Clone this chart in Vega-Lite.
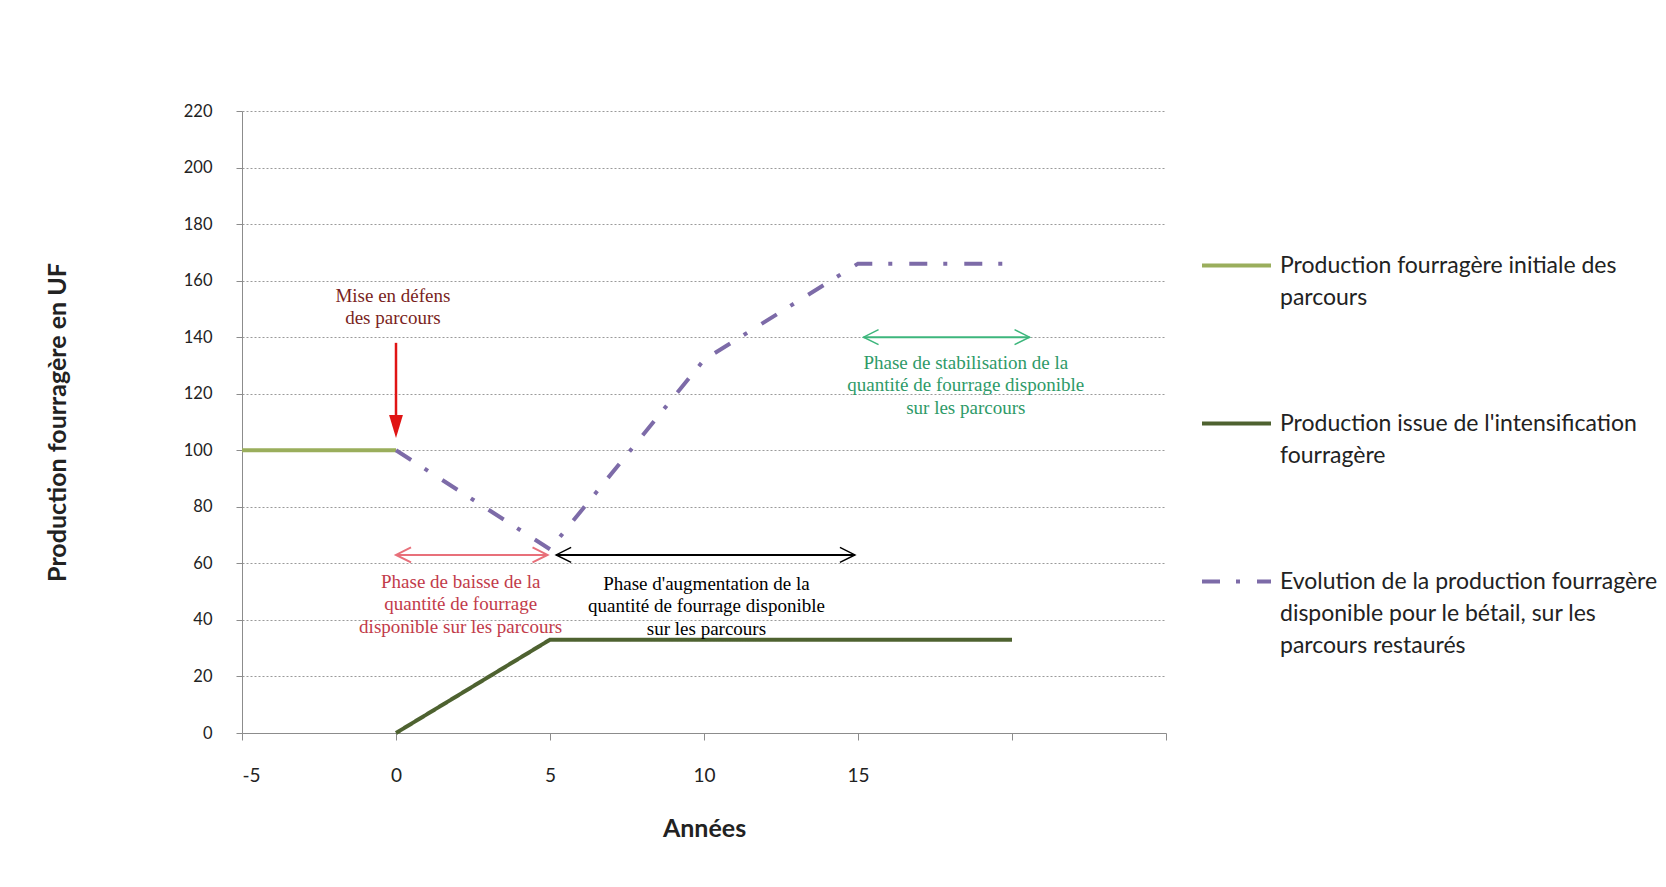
{
  "$schema": "https://vega.github.io/schema/vega-lite/v6.json",
  "width": 924,
  "height": 622,
  "autosize": {"type": "none"},
  "padding": {"left": 242, "top": 111, "right": 500, "bottom": 154},
  "background": "white",
  "config": {
    "view": {"stroke": null},
    "font": "Lato",
    "style": {"guide-label": {"lineHeight": 32}}
  },
  "datasets": {
    "series": [
      {"serie": "Production fourragère initiale  des parcours", "x": -5, "y": 100},
      {"serie": "Production fourragère initiale  des parcours", "x": 0, "y": 100},
      {"serie": "Production issue de l'intensification fourragère", "x": 0, "y": 0},
      {"serie": "Production issue de l'intensification fourragère", "x": 5, "y": 33},
      {"serie": "Production issue de l'intensification fourragère", "x": 20, "y": 33},
      {"serie": "Evolution de la production fourragère disponible pour le bétail, sur les parcours restaurés", "x": 0, "y": 100},
      {"serie": "Evolution de la production fourragère disponible pour le bétail, sur les parcours restaurés", "x": 5, "y": 65},
      {"serie": "Evolution de la production fourragère disponible pour le bétail, sur les parcours restaurés", "x": 10, "y": 132},
      {"serie": "Evolution de la production fourragère disponible pour le bétail, sur les parcours restaurés", "x": 15, "y": 166},
      {"serie": "Evolution de la production fourragère disponible pour le bétail, sur les parcours restaurés", "x": 20, "y": 166}
    ],
    "arrows": [
      {"phase": "baisse", "x1": 0, "x2": 4.92, "y": 63},
      {"phase": "augmentation", "x1": 5.2, "x2": 14.9, "y": 63},
      {"phase": "stabilisation", "x1": 15.18, "x2": 20.57, "y": 140}
    ],
    "defens": [
      {"x": 0, "y": 138, "y2": 110, "tip": 104.3}
    ],
    "notes": [
      {"id": "defens", "x": -0.1, "y": 157.8, "text": "Mise en défens\ndes parcours"},
      {"id": "baisse", "x": 2.1, "y": 56.7, "text": "Phase de baisse de la\nquantité de fourrage\ndisponible sur les parcours"},
      {"id": "augmentation", "x": 10.08, "y": 56, "text": "Phase d'augmentation de la\nquantité de fourrage disponible\nsur les parcours"},
      {"id": "stabilisation", "x": 18.5, "y": 134.1, "text": "Phase de stabilisation de la\nquantité de fourrage disponible\nsur les parcours"}
    ]
  },
  "layer": [
    {
      "data": {"name": "series"},
      "mark": {"type": "line", "strokeWidth": 4, "strokeCap": "butt"},
      "encoding": {
        "x": {
          "field": "x", "type": "quantitative",
          "scale": {"domain": [-5, 25], "nice": false, "zero": false},
          "axis": {
            "title": "Années",
            "values": [-5, 0, 5, 10, 15, 20, 25],
            "labelExpr": "datum.value <= 15 ? '' + datum.value : ''",
            "grid": false,
            "domainColor": "#8c8c8c",
            "tickColor": "#8c8c8c",
            "tickSize": 7,
            "labelFont": "Lato",
            "labelFontSize": 19,
            "labelColor": "#222222",
            "labelPadding": 26,
            "titleFont": "Lato",
            "titleFontSize": 25,
            "titleFontWeight": "bold",
            "titleColor": "#222222",
            "titlePadding": 31
          }
        },
        "y": {
          "field": "y", "type": "quantitative",
          "scale": {"domain": [0, 220], "nice": false},
          "axis": {
            "title": "Production fourragère en UF",
            "values": [0, 20, 40, 60, 80, 100, 120, 140, 160, 180, 200, 220],
            "grid": true,
            "gridDash": [2, 2],
            "gridColor": "#9a9a9a",
            "domainColor": "#8c8c8c",
            "tickColor": "#8c8c8c",
            "tickSize": 6,
            "labelFont": "Lato",
            "labelFontSize": 16.5,
            "labelColor": "#222222",
            "labelPadding": 24,
            "titleFont": "Lato",
            "titleFontSize": 25,
            "titleFontWeight": "bold",
            "titleColor": "#222222",
            "titlePadding": 113
          }
        },
        "color": {
          "field": "serie", "type": "nominal",
          "scale": {
            "domain": [
              "Production fourragère initiale  des parcours",
              "Production issue de l'intensification fourragère",
              "Evolution de la production fourragère disponible pour le bétail, sur les parcours restaurés"
            ],
            "range": ["#9AAE5C", "#4E6230", "#7D6BA8"]
          },
          "legend": {
            "orient": "none",
            "legendX": 958,
            "legendY": 118,
            "title": null,
            "padding": 0,
            "symbolType": "stroke",
            "symbolSize": 4761,
            "symbolStrokeWidth": 4,
            "labelFont": "Lato",
            "labelFontSize": 23,
            "labelColor": "#222222",
            "labelLimit": 0,
            "labelOffset": 7,
            "rowPadding": 77,
            "labelBaseline": "middle",
            "labelExpr": "datum.label == 'Production fourragère initiale  des parcours' ? ['Production fourragère initiale  des', 'parcours'] : datum.label == 'Production issue de l\\'intensification fourragère' ? ['Production issue de l\\'intensification', 'fourragère'] : ['Evolution de la production fourragère', 'disponible pour le bétail, sur les', 'parcours restaurés']"
          }
        },
        "strokeDash": {
          "field": "serie", "type": "nominal",
          "scale": {
            "domain": [
              "Production fourragère initiale  des parcours",
              "Production issue de l'intensification fourragère",
              "Evolution de la production fourragère disponible pour le bétail, sur les parcours restaurés"
            ],
            "range": [[1, 0], [1, 0], [18, 16, 4, 17]]
          },
          "legend": {
            "orient": "none",
            "legendX": 958,
            "legendY": 118,
            "title": null,
            "padding": 0,
            "symbolType": "stroke",
            "symbolSize": 4761,
            "symbolStrokeWidth": 4,
            "labelFont": "Lato",
            "labelFontSize": 23,
            "labelColor": "#222222",
            "labelLimit": 0,
            "labelOffset": 7,
            "rowPadding": 77,
            "labelBaseline": "middle",
            "labelExpr": "datum.label == 'Production fourragère initiale  des parcours' ? ['Production fourragère initiale  des', 'parcours'] : datum.label == 'Production issue de l\\'intensification fourragère' ? ['Production issue de l\\'intensification', 'fourragère'] : ['Evolution de la production fourragère', 'disponible pour le bétail, sur les', 'parcours restaurés']"
          }
        }
      }
    },
    {
      "data": {"name": "defens"},
      "layer": [
        {
          "mark": {"type": "rule", "color": "#E01414", "strokeWidth": 2.5},
          "encoding": {
            "x": {"field": "x", "type": "quantitative"},
            "y": {"field": "y", "type": "quantitative"},
            "y2": {"field": "y2"}
          }
        },
        {
          "mark": {"type": "point", "shape": "M-0.6,-2L0.6,-2L0,0Z", "filled": true, "color": "#E01414", "size": 529, "opacity": 1},
          "encoding": {
            "x": {"field": "x", "type": "quantitative"},
            "y": {"field": "tip", "type": "quantitative"}
          }
        }
      ]
    },
    {
      "data": {"name": "arrows"},
      "transform": [{"filter": "datum.phase == 'baisse'"}],
      "layer": [
        {
          "mark": {"type": "rule", "color": "#E8707A", "strokeWidth": 2},
          "encoding": {
            "x": {"field": "x1", "type": "quantitative"},
            "x2": {"field": "x2"},
            "y": {"field": "y", "type": "quantitative"}
          }
        },
        {
          "mark": {"type": "point", "shape": "M2,-1L0,0L2,1", "filled": false, "color": "#E8707A", "size": 225, "strokeWidth": 2, "opacity": 1},
          "encoding": {
            "x": {"field": "x1", "type": "quantitative"},
            "y": {"field": "y", "type": "quantitative"}
          }
        },
        {
          "mark": {"type": "point", "shape": "M-2,-1L0,0L-2,1", "filled": false, "color": "#E8707A", "size": 225, "strokeWidth": 2, "opacity": 1},
          "encoding": {
            "x": {"field": "x2", "type": "quantitative"},
            "y": {"field": "y", "type": "quantitative"}
          }
        }
      ]
    },
    {
      "data": {"name": "arrows"},
      "transform": [{"filter": "datum.phase == 'augmentation'"}],
      "layer": [
        {
          "mark": {"type": "rule", "color": "#000000", "strokeWidth": 2},
          "encoding": {
            "x": {"field": "x1", "type": "quantitative"},
            "x2": {"field": "x2"},
            "y": {"field": "y", "type": "quantitative"}
          }
        },
        {
          "mark": {"type": "point", "shape": "M2,-1L0,0L2,1", "filled": false, "color": "#000000", "size": 225, "strokeWidth": 1.5, "opacity": 1},
          "encoding": {
            "x": {"field": "x1", "type": "quantitative"},
            "y": {"field": "y", "type": "quantitative"}
          }
        },
        {
          "mark": {"type": "point", "shape": "M-2,-1L0,0L-2,1", "filled": false, "color": "#000000", "size": 225, "strokeWidth": 1.5, "opacity": 1},
          "encoding": {
            "x": {"field": "x2", "type": "quantitative"},
            "y": {"field": "y", "type": "quantitative"}
          }
        }
      ]
    },
    {
      "data": {"name": "arrows"},
      "transform": [{"filter": "datum.phase == 'stabilisation'"}],
      "layer": [
        {
          "mark": {"type": "rule", "color": "#3DB67C", "strokeWidth": 2},
          "encoding": {
            "x": {"field": "x1", "type": "quantitative"},
            "x2": {"field": "x2"},
            "y": {"field": "y", "type": "quantitative"}
          }
        },
        {
          "mark": {"type": "point", "shape": "M2,-1L0,0L2,1", "filled": false, "color": "#3DB67C", "size": 225, "strokeWidth": 1.5, "opacity": 1},
          "encoding": {
            "x": {"field": "x1", "type": "quantitative"},
            "y": {"field": "y", "type": "quantitative"}
          }
        },
        {
          "mark": {"type": "point", "shape": "M-2,-1L0,0L-2,1", "filled": false, "color": "#3DB67C", "size": 225, "strokeWidth": 1.5, "opacity": 1},
          "encoding": {
            "x": {"field": "x2", "type": "quantitative"},
            "y": {"field": "y", "type": "quantitative"}
          }
        }
      ]
    },
    {
      "data": {"name": "notes"},
      "transform": [{"filter": "datum.id == 'defens'"}],
      "mark": {"type": "text", "font": "Liberation Serif", "fontSize": 19, "lineHeight": 22.5, "lineBreak": "\n", "align": "center", "baseline": "top", "color": "#7A1F22"},
      "encoding": {
        "x": {"field": "x", "type": "quantitative"},
        "y": {"field": "y", "type": "quantitative"},
        "text": {"field": "text", "type": "nominal"}
      }
    },
    {
      "data": {"name": "notes"},
      "transform": [{"filter": "datum.id == 'baisse'"}],
      "mark": {"type": "text", "font": "Liberation Serif", "fontSize": 19, "lineHeight": 22.5, "lineBreak": "\n", "align": "center", "baseline": "top", "color": "#C23B4A"},
      "encoding": {
        "x": {"field": "x", "type": "quantitative"},
        "y": {"field": "y", "type": "quantitative"},
        "text": {"field": "text", "type": "nominal"}
      }
    },
    {
      "data": {"name": "notes"},
      "transform": [{"filter": "datum.id == 'augmentation'"}],
      "mark": {"type": "text", "font": "Liberation Serif", "fontSize": 19, "lineHeight": 22.5, "lineBreak": "\n", "align": "center", "baseline": "top", "color": "#000000"},
      "encoding": {
        "x": {"field": "x", "type": "quantitative"},
        "y": {"field": "y", "type": "quantitative"},
        "text": {"field": "text", "type": "nominal"}
      }
    },
    {
      "data": {"name": "notes"},
      "transform": [{"filter": "datum.id == 'stabilisation'"}],
      "mark": {"type": "text", "font": "Liberation Serif", "fontSize": 19, "lineHeight": 22.5, "lineBreak": "\n", "align": "center", "baseline": "top", "color": "#2E9A68"},
      "encoding": {
        "x": {"field": "x", "type": "quantitative"},
        "y": {"field": "y", "type": "quantitative"},
        "text": {"field": "text", "type": "nominal"}
      }
    }
  ]
}
